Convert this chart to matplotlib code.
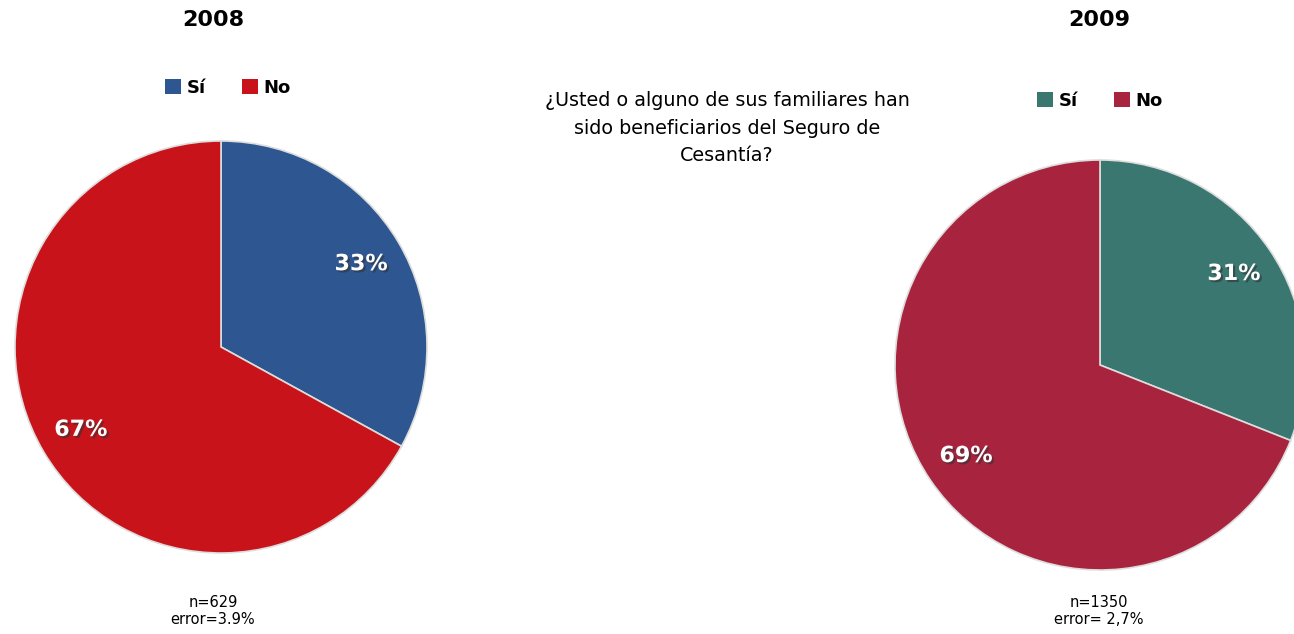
import matplotlib.pyplot as plt
import matplotlib.patheffects as pe
from matplotlib.patches import Patch

# data
labels = ['Sí', 'No']
vals_2008 = [33, 67]
vals_2009 = [31, 69]
colors_2008 = ['#2E5791', '#C8131A']
colors_2009 = ['#3A7770', '#A8243E']
question = '¿Usted o alguno de sus familiares han\nsido beneficiarios del Seguro de\nCesantía?'
notes_2008 = 'n=629\nerror=3.9%'
notes_2009 = 'n=1350\nerror= 2,7%'

W, H = 1294, 634
fig = plt.figure(figsize=(W / 100, H / 100), dpi=100)
ax = fig.add_axes([0, 0, 1, 1])

shadow = [pe.SimplePatchShadow(offset=(1.5, -1.5), shadow_rgbFace='#333333', alpha=0.6), pe.Normal()]


def draw_pie(vals, colors, cx, cy, r, year, note, text_x, leg_x, leg_y):
    wedges, _, autotexts = ax.pie(vals, colors=colors, startangle=90, counterclock=False,
                                  center=(cx, H - cy), radius=r, frame=True,
                                  autopct='%d%%', pctdistance=0.79,
                                  wedgeprops=dict(edgecolor='#dddddd', linewidth=1.2))
    for t in autotexts:
        t.set_color('white')
        t.set_fontsize(16)
        t.set_fontweight('bold')
        t.set_path_effects(shadow)
    ax.text(text_x, H - 20, year, ha='center', va='center', fontsize=16, fontweight='bold')
    ax.text(text_x, H - 611, note, ha='center', va='center', fontsize=10.5, linespacing=1.2)
    handles = [Patch(facecolor=c, edgecolor='none') for c in colors]
    leg = ax.legend(handles, labels, loc='center', bbox_to_anchor=(leg_x / W, 1 - leg_y / H),
                    bbox_transform=fig.transFigure, ncol=2, frameon=False,
                    handlelength=0.9, handleheight=0.9, handletextpad=0.3, columnspacing=2.0,
                    prop=dict(weight='bold', size=13))
    return leg


leg1 = draw_pie(vals_2008, colors_2008, 221, 347, 206, '2008', notes_2008, 213, 228, 88)
ax.add_artist(leg1)
draw_pie(vals_2009, colors_2009, 1100, 365, 205, '2009', notes_2009, 1099, 1100, 101)

ax.text(727, H - 128, question, ha='center', va='center', fontsize=13.8, linespacing=1.55)

ax.set_xlim(0, W)
ax.set_ylim(0, H)
ax.set_aspect('equal')
ax.axis('off')

fig.savefig('out.png', dpi=100)
